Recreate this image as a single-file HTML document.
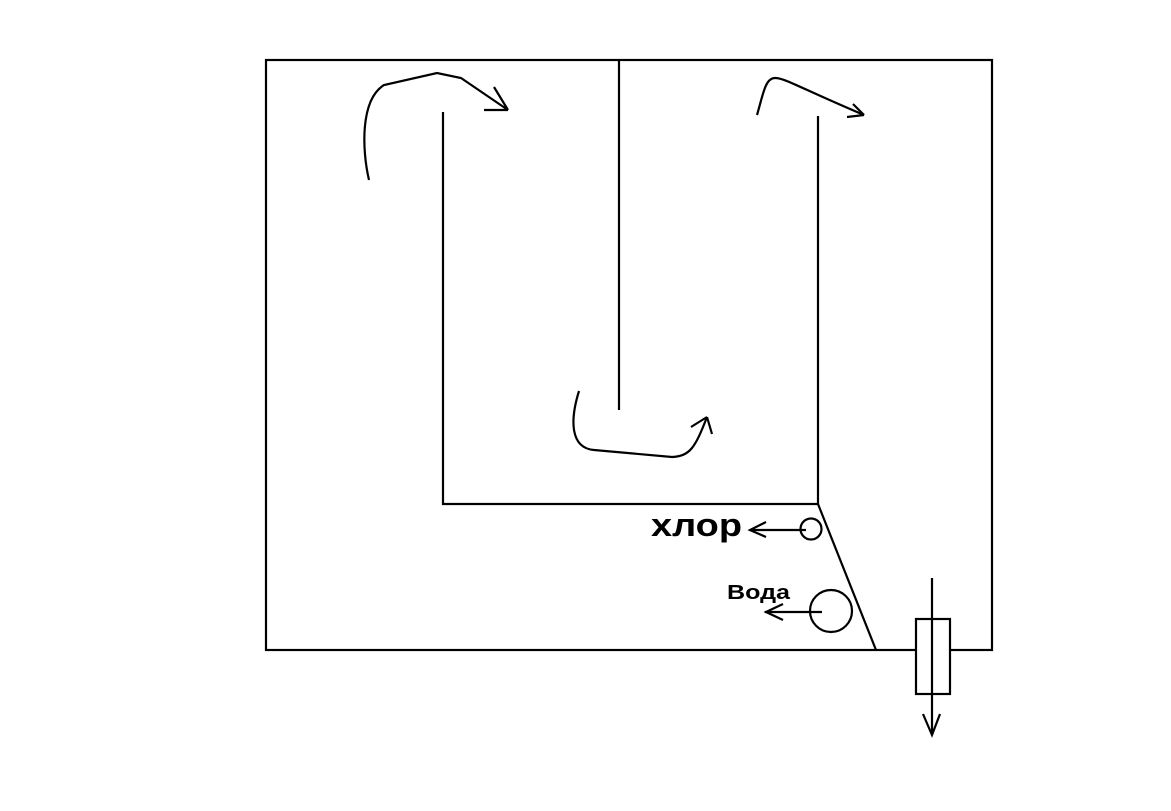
<!DOCTYPE html>
<html><head><meta charset="utf-8"><style>
html,body{margin:0;padding:0;background:#fff;width:1171px;height:811px;overflow:hidden}
</style></head><body>
<svg width="1171" height="811" viewBox="0 0 1171 811" xmlns="http://www.w3.org/2000/svg">
<g fill="none" stroke="#000" stroke-width="2.2">
<rect x="266" y="60" width="726" height="590"/>
<line x1="443" y1="112" x2="443" y2="505"/>
<line x1="442" y1="504" x2="819" y2="504"/>
<line x1="818" y1="116" x2="818" y2="505"/>
<line x1="619" y1="60" x2="619" y2="410"/>
<line x1="818" y1="504" x2="876" y2="650"/>
<circle cx="811" cy="529" r="10.5"/>
<line x1="806" y1="530" x2="750" y2="530"/>
<polyline points="766,522 750,530 766,537"/>
<circle cx="831" cy="611" r="21"/>
<line x1="822" y1="612" x2="765" y2="612"/>
<polyline points="783,604 766,612 783,620"/>
<rect x="916" y="619" width="34" height="75" fill="#fff"/>
<line x1="932" y1="578" x2="932" y2="735"/>
<polyline points="923,714 932,735 940,714"/>
<path d="M369,180 C362,150 360,100 384,85 L437,73 L461,78 L508,110"/>
<line x1="508" y1="110" x2="484" y2="110"/>
<line x1="508" y1="110" x2="494" y2="87"/>
<path d="M757,115 C763,95 765,78 775,78 C785,78 800,88 864,115"/>
<line x1="864" y1="115" x2="847" y2="117"/>
<line x1="864" y1="115" x2="853" y2="104"/>
<path d="M579,391 C570,420 570,448 594,450 L672,457 C690,456 695,448 707,417"/>
<line x1="707" y1="417" x2="691" y2="427"/>
<line x1="707" y1="417" x2="712" y2="434"/>
</g>
<text x="651" y="536" font-family="'Liberation Sans','DejaVu Sans',sans-serif" font-weight="bold" font-size="32" fill="#000" textLength="91" lengthAdjust="spacingAndGlyphs">хлор</text>
<text x="727" y="599" font-family="'Liberation Sans','DejaVu Sans',sans-serif" font-weight="bold" font-size="20" fill="#000" textLength="63" lengthAdjust="spacingAndGlyphs">Вода</text>
</svg>
</body></html>
